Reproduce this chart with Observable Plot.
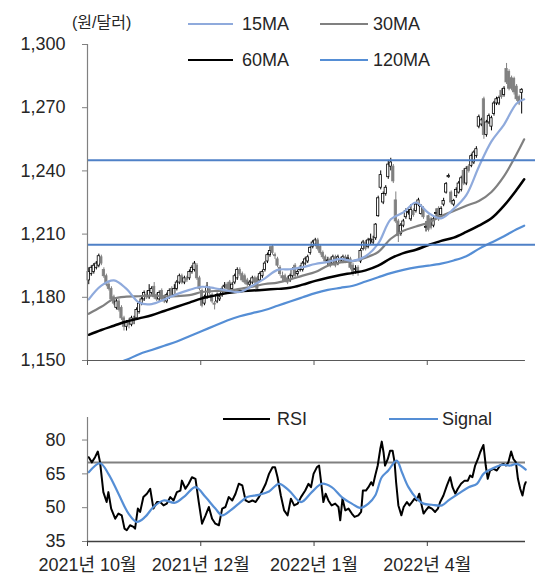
<!DOCTYPE html>
<html><head><meta charset="utf-8">
<script src="https://cdn.jsdelivr.net/npm/d3@7"></script>
<script src="https://cdn.jsdelivr.net/npm/@observablehq/plot@0.6"></script>
<style>
body{margin:0;background:#fff;}
#wrap{position:relative;width:535px;height:574px;overflow:hidden;font-family:"Liberation Sans","Noto Sans CJK KR",sans-serif;color:#262626;}
#wrap svg{position:absolute;left:0;}
.lg{position:absolute;font-size:18px;line-height:20px;height:20px;white-space:nowrap;}
.sw{position:absolute;height:0;}
</style></head><body><div id="wrap"></div>
<script>
// ---- price candles (day index 0..172) ----
const openP = [1188,1191,1192,1194,1195,1199,1193,1190,1186,1184,1180,1175,1178,1175,1170,1166,1168,1167,1169,1170,
1173,1177,1179,1181,1180,1182,1185,1181,1179,1183,1180,1178,1180,1184,1181,1184,1187,1190,1187,1189,
1189,1192,1193,1195,1189,1183,1177,1180,1184,1181,1177,1178,1179,1181,1185,1186,1187,1184,1187,1189,
1193,1191,1190,1188,1186,1187,1189,1189,1188,1190,1193,1197,1200,1204,1200,1198,1194,1190,1190,1189,
1188,1190,1195,1191,1193,1193,1196,1197,1201,1204,1205,1207,1204,1201,1199,1197,1198,1196,1199,1196,
1198,1197,1199,1198,1198,1195,1193,1194,1197,1203,1206,1204,1207,1206,1208,1218.5,1232,1225,1229,1237,
1242,1242,1226,1216,1210,1214,1218,1220,1217,1221,1221,1224,1219.5,1222,1213,1218.5,1217,1214,1219.5,1222,
1219,1224,1229.7,1237,1229.7,1224,1228,1229.7,1231,1240,1234,1242,1242.4,1244,1247,1261,1262,1274,1257,1263,
1261,1267,1272,1272,1278,1276,1288.4,1287,1284,1283.7,1280,1275,1277];
const closeP = [1192,1194,1195,1196,1199.5,1196,1190,1186,1184,1179,1177,1178,1174,1170,1166,1168,1167,1170,1169.5,1174,
1177,1179,1182,1180,1183,1184,1180,1179,1182,1179,1178,1181,1183,1181,1184,1187,1190,1187,1189,1188,
1192,1194,1196,1189,1184,1176,1180,1185,1182,1178,1176.5,1181,1180,1184,1185.5,1184,1183,1186,1190,1193,
1191,1188,1187,1186,1187,1189,1187,1184,1191,1192,1196,1200,1202,1201,1199.5,1195,1191,1189,1188,1187,
1190,1193,1190,1192,1194,1196,1198,1199,1203.5,1206,1207,1203,1201,1199,1197,1197.5,1195,1199,1195,1199,
1197,1199,1197,1198.5,1194,1192,1193.5,1192,1202,1206,1203,1207,1207.5,1207,1214.5,1227,1238,1229,1232,1243,
1244,1235,1216,1209,1214,1216,1221,1220.5,1221.5,1219,1224,1226,1223,1218,1213.5,1212,1213,1217,1220,1217,
1222,1225.7,1233.7,1237.6,1225,1225.7,1231,1234,1236.5,1234,1241,1240,1247,1248.7,1250.3,1265.5,1264,1257,1263,1266,
1265,1272,1274,1274.5,1275,1279,1282,1279,1279,1277.3,1274,1272,1278.5];
const highP = [1194,1195,1196,1197,1200.5,1200,1194,1191,1187,1185,1181,1179,1179,1176,1171,1169,1170,1171,1171,1175,
1178,1180,1183,1183,1186,1185,1187,1182,1183,1184,1181,1182,1184,1185,1186,1188,1191,1191,1190,1190,
1193,1195,1197,1196,1190,1184,1181,1187,1185,1182,1178,1182,1181,1185,1187,1187,1188,1187,1191,1194,
1194,1192,1191,1189,1188,1190,1190,1190,1192,1193,1197,1201,1204,1205,1201,1199,1195,1192,1191,1190,
1191,1194,1196,1193,1195,1197,1199,1200,1204,1207,1208,1208,1205,1202,1200,1199,1199,1200,1200,1200,
1199,1200,1200,1200,1199,1196,1195,1195,1203,1207,1207,1208,1210,1209,1215,1228,1240,1230,1233,1245,
1246,1243,1230,1217,1215,1217,1222,1222,1224,1222,1225,1227,1224,1223,1216,1219,1218,1218,1222,1223,
1223,1227,1234.5,1238.5,1230.5,1226.5,1232,1235,1237.5,1241,1242,1243,1248,1249.5,1251.5,1266.5,1265,1275,1264,1267,
1266,1273,1275,1275.5,1279,1280,1291,1288,1285,1284.5,1281,1276,1279];
const lowP = [1186,1190,1191,1193,1194,1195,1189,1185,1183,1178,1176,1174,1173,1169,1164,1164,1165,1166,1167,1169,
1172,1176,1178,1179,1179,1181,1179,1178,1178,1178,1177,1177,1179,1180,1180,1183,1186,1186,1186,1187,
1188,1191,1192,1188,1183,1175,1176,1179,1181,1177,1174,1177,1178,1180,1184,1183,1182,1183,1186,1188,
1190,1187,1186,1185,1185,1186,1186,1183,1187,1189,1192,1196,1199,1200,1198,1194,1190,1187,1187,1186,
1187,1189,1189,1190,1192,1192,1195,1196,1200,1203,1204,1202,1200,1198,1196,1195,1194,1195,1194,1195,
1196,1196,1196,1197,1193,1190,1191,1190,1196,1202,1202,1203,1205,1205,1207,1218,1231,1224,1228,1236,
1240,1234,1215,1206,1209,1213,1217,1219,1216,1218,1220,1223,1219,1217,1211,1211,1212,1213,1218,1216,
1218,1223,1229,1236.5,1224,1223,1227,1229,1230,1233,1233,1239,1241.5,1243,1246,1260,1261,1255,1256,1262,
1259,1266,1271,1271,1274,1275,1281,1278,1278,1276,1273,1271,1267];

// ---- moving averages, read at sampled day indices ----
const maDays = [0,5,10,15,20,25,30,35,40,45,50,55,60,65,70,75,80,85,90,95,100,105,110,115,120,125,130,135,140,145,150,155,160,165,170,173];
const ma15 = [1179,1185.5,1188,1184,1177.5,1176.8,1179,1181.5,1183.5,1185,1184.3,1183.2,1182.5,1185.5,1189,1193,1193.3,1194.3,1195.8,1196.8,1198.2,1197.3,1199.5,1205.5,1217,1220.3,1225,1220,1217.5,1222,1228.5,1242,1254,1262,1272,1274];
const ma30 = [1172.2,1175.5,1179.3,1180.3,1180.5,1180.8,1180.5,1180.5,1181,1182.5,1183,1183,1184,1185,1186.3,1187,1188.5,1190.3,1192,1195,1196.5,1197.2,1198.8,1201.5,1207.8,1211.6,1213.6,1215.5,1218.5,1221,1223.5,1225.7,1230,1237.5,1248,1255];
const ma60 = [1162.2,1164.5,1166.5,1168.5,1170,1171.5,1173.5,1175.5,1177.5,1179.5,1180.8,1182,1182.8,1183.2,1183.6,1184,1184.5,1186,1187.8,1189.3,1190.6,1191.6,1192.8,1195,1198.5,1201,1202.6,1204.8,1206.8,1208.3,1211,1214,1217.5,1223.5,1231,1236];
const ma120Days = [13,15,20,25,30,35,40,45,50,55,60,65,70,75,80,85,90,95,100,105,110,115,120,125,130,135,140,145,150,155,160,165,170,173];
const ma120 = [1149.5,1150.3,1153,1155,1157,1159,1161.5,1164,1166.5,1169,1171,1172.5,1174,1176,1178,1180,1182,1183.5,1184.5,1185.5,1187.5,1189.5,1191.5,1193,1194.2,1195,1196,1197.5,1199.5,1203,1206,1209,1212.3,1214];
const bandLevels = [1245,1205];
const priceTicks = [1150,1180,1210,1240,1270,1300];

// ---- RSI panel ----
const rsiDays = [0,1.2,2.5,3.6,4.5,5.8,7.1,7.8,8.9,10.5,11.8,13.1,14.2,15.1,16.4,17.8,18.4,19.5,20.4,21.7,23.1,24.4,25.7,27.1,28.4,29.7,31,32.4,33.7,35,36.4,37,38.4,39.7,41,42.4,43.7,45,46.4,47.7,49,50.3,51.7,53,54.3,55.6,57,58.3,59.6,61,62.3,63.6,65,66.3,67.6,69,70.3,71.6,73,74,75,76.3,77.6,79,80.3,81.6,83,84.3,86,87.3,88.3,89.3,90.6,91.5,92.3,93.2,94.1,95.2,96.5,97.9,99.2,99.9,100.8,101.9,103.2,104.5,105.6,107.1,108.2,108.9,110.1,111.1,112.2,112.9,113.8,114.8,115.8,116.4,117.1,117.7,118.8,119.7,120.7,121.5,122.1,123,124.2,125.1,126.4,127.4,128.4,129.4,130.3,131.3,132.1,133,133.9,135,136.3,137.6,138.7,139.6,140.9,142.3,143.6,144.5,145.6,146.6,147.9,149.3,150.6,151.5,152.4,153.5,154.6,155.5,156.8,157.7,158.5,159.4,160.8,162.1,163.4,164.7,165.7,166.7,167.8,168.7,169.7,170.5,171.4,172.3,173.1,173.6];
const rsiVals = [72.4,70.1,72.4,74.9,70.1,56.9,52.5,56.9,49.6,45.1,47.4,46.6,40.7,40,42.2,41.5,40.7,49.6,48.1,54.7,56.2,58.4,49.6,52.5,52.5,51,51.8,54.7,53.2,56.9,57.6,62,58.4,60.6,63.5,62.8,52.5,42.9,46.6,50.3,45.1,42.9,42.2,49.6,50.3,54.7,53.2,56.2,60.6,59.9,53.2,52.5,53.2,52.5,54.7,57.6,60.6,65,67.9,67.9,63.5,55.4,48.8,46.6,54,51,51.8,54.7,57.6,60.6,59.1,65,67.9,68.7,61.3,52.5,56.2,53.2,51,51.8,50.3,44.4,54,48.8,49.6,47.4,45.9,46.6,48.1,57.6,57.6,59.1,61.3,59.9,64.3,68.7,76,79.3,74.6,68.7,71.6,75.3,75.3,70.1,61.3,51,46.6,50.3,52.5,51,52.5,54,53.2,56.2,51.8,47.4,48.8,50.3,49.6,48.1,49.6,52.5,55.4,59.9,63.5,59.1,56.2,58.4,60.6,62,62,64.3,63.5,68.7,71.6,74.6,77.8,68.7,62.8,66.5,67.2,66.5,68.7,69.4,68.7,70.1,74.9,71.6,70.1,62.8,58.4,55.4,59.9,61.3];
const sigDays = [0,4.5,7.8,11.8,15.8,19.1,22.4,25.7,29.7,34.3,38.4,42.4,46.4,50.3,53,56.3,59.6,62.9,67.6,71.6,75.6,79.6,84.3,88.6,92.6,96.5,100.5,104.5,107.8,111.1,113.8,116.4,119,122.3,124.4,127,130.3,133,136.3,140.3,142.9,146.9,150.9,154.2,156.8,160.1,164.1,167.4,170,173.6];
const sigVals = [65.7,69.7,65,56.2,47.4,43.7,45.9,50.3,53.2,52.2,55.4,59.1,54.7,49.6,46.6,48.8,51.8,54.7,55.7,57.2,60.6,57.6,52.5,56.9,60.6,59.1,54.7,51.8,49.9,51.8,55.4,63.5,66.5,70.9,65.7,59.1,54,51.8,51.3,51,53.2,56.2,59.1,60.6,65,67.2,69,68.7,69.4,66.9];
const rsiLevel = 70;
const rsiTicks = [35,50,65,80];

// ---- shared x ticks (category boundaries) ----
const xTickDays = [-0.5,44.5,89.5,134.5];
const xTickLabels = ["2021년 10월","2021년 12월","2022년 1월","2022년 4월"];

// ---- build tables ----
const candles = closeP.map((c,i)=>({i, o:openP[i], h:highP[i], l:lowP[i], c, up:c>=openP[i]}));
const maTable = maDays.map((d,i)=>({d, m15:ma15[i], m30:ma30[i], m60:ma60[i]}));
const ma120Table = ma120Days.map((d,i)=>({d, v:ma120[i]}));
const rsiTable = rsiDays.map((d,i)=>({d, v:rsiVals[i]}));
const sigTable = sigDays.map((d,i)=>({d, v:sigVals[i]}));

const FONT = '"Liberation Sans","Noto Sans CJK KR",sans-serif';
const C15 = "#8faadc", C30 = "#808080", C60 = "#000000", C120 = "#558ed5", CBAND = "#4f81c7", CSIG = "#558ed5";

const topPlot = Plot.plot({
  width:535, height:380, marginTop:44, marginBottom:20, marginLeft:87, marginRight:0,
  x:{domain:[-0.5,177.5], axis:null, label:null},
  y:{domain:[1150,1300], axis:null, label:null},
  style:{fontFamily:FONT, fontSize:"18px", color:"#262626", background:"transparent", overflow:"visible"},
  marks:[
    Plot.ruleX(candles,{x:"i", y1:"l", y2:"h", stroke:d=>d.up?"#000":"#808080", strokeWidth:1}),
    Plot.rect(candles,{x1:d=>d.i-0.45, x2:d=>d.i+0.45, y1:"o", y2:"c", fill:d=>d.up?"#fff":"#808080", stroke:d=>d.up?"#000":"#808080", strokeWidth:0.8}),
    Plot.line(ma120Table,{x:"d", y:"v", stroke:C120, strokeWidth:2.2, curve:"catmull-rom", clip:true}),
    Plot.line(maTable,{x:"d", y:"m60", stroke:C60, strokeWidth:2.5, curve:"catmull-rom"}),
    Plot.line(maTable,{x:"d", y:"m30", stroke:C30, strokeWidth:2.2, curve:"catmull-rom"}),
    Plot.line(maTable,{x:"d", y:"m15", stroke:C15, strokeWidth:2.2, curve:"catmull-rom"}),
    Plot.ruleY(bandLevels,{stroke:CBAND, strokeWidth:2}),
    Plot.ruleX([-0.5],{y1:1150, y2:1300, stroke:"#808080", strokeWidth:1.2}),
    Plot.ruleY([1150],{x1:-0.5, x2:173.5, stroke:"#595959", strokeWidth:1.2}),
    Plot.axisY({ticks:priceTicks, tickFormat:d3.format(","), tickSize:5, tickPadding:17, stroke:"#808080", label:null}),
    Plot.axisX({ticks:xTickDays, tickFormat:()=>"", tickSize:5, stroke:"#595959", label:null})
  ]
});
topPlot.style.top = "0px";

const botPlot = Plot.plot({
  width:535, height:174, marginTop:17, marginBottom:33, marginLeft:87, marginRight:10,
  x:{domain:[-0.5,173.5], axis:null, label:null},
  y:{domain:[35,90], axis:null, label:null},
  style:{fontFamily:FONT, fontSize:"18px", color:"#262626", background:"transparent", overflow:"visible"},
  marks:[
    Plot.ruleY([rsiLevel],{stroke:"#808080", strokeWidth:2}),
    Plot.line(rsiTable,{x:"d", y:"v", stroke:"#000", strokeWidth:2}),
    Plot.line(sigTable,{x:"d", y:"v", stroke:CSIG, strokeWidth:2.2, curve:"catmull-rom"}),
    Plot.ruleX([-0.5],{y1:35, y2:90, stroke:"#808080", strokeWidth:1.2}),
    Plot.ruleY([35],{stroke:"#404040", strokeWidth:1.6}),
    Plot.axisY({ticks:rsiTicks, tickSize:5, tickPadding:17, stroke:"#808080", label:null}),
    Plot.axisX({ticks:xTickDays, tickFormat:d=>xTickLabels[xTickDays.indexOf(d)], tickSize:5, tickPadding:12, stroke:"#404040", label:null})
  ]
});
botPlot.style.top = "400px";

const wrap = document.getElementById("wrap");
wrap.appendChild(topPlot);
wrap.appendChild(botPlot);

function legendLine(x, y, w, color, t){
  const s = document.createElement("div");
  s.className = "sw";
  s.style.left = x+"px"; s.style.width = w+"px"; s.style.top = (y - t/2)+"px";
  s.style.borderTop = t+"px solid "+color;
  wrap.appendChild(s);
}
function legendText(x, y, txt, size){
  const d = document.createElement("div");
  d.className = "lg";
  d.style.left = x+"px"; d.style.top = (y-10)+"px";
  if(size) d.style.fontSize = size+"px";
  d.textContent = txt;
  wrap.appendChild(d);
}
legendText(72, 23, "(원/달러)", 16);
legendLine(188, 24, 45, C15, 2.5); legendText(242, 24, "15MA");
legendLine(320, 24, 48, C30, 2.5); legendText(373, 24, "30MA");
legendLine(188, 60, 45, C60, 2.5); legendText(242, 60, "60MA");
legendLine(320, 60, 48, C120, 2.5); legendText(373, 60, "120MA");
legendLine(223, 419, 47, "#000", 2.5); legendText(277, 419, "RSI");
legendLine(389, 419, 49, CSIG, 2.5); legendText(442, 419, "Signal");
</script></body></html>
